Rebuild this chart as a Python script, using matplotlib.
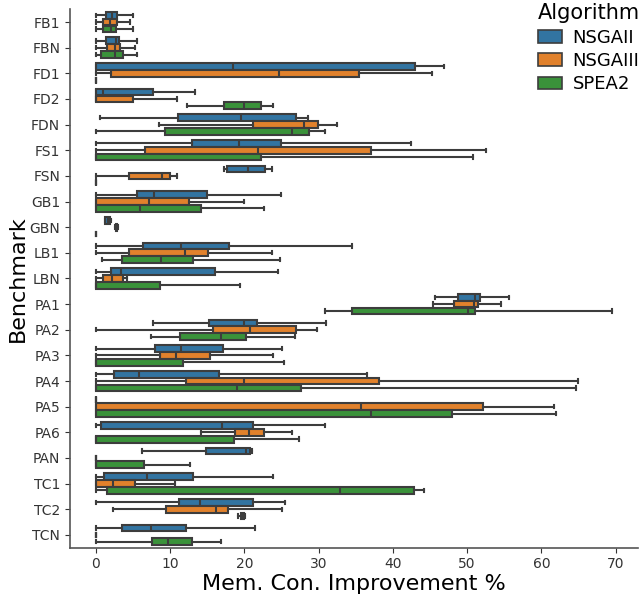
import matplotlib
matplotlib.use("Agg")
import matplotlib.pyplot as plt
from matplotlib.patches import Patch

benchmarks = ["FB1", "FBN", "FD1", "FD2", "FDN", "FS1", "FSN", "GB1", "GBN", "LB1",
              "LBN", "PA1", "PA2", "PA3", "PA4", "PA5", "PA6", "PAN", "TC1", "TC2", "TCN"]
algorithms = ["NSGAII", "NSGAIII", "SPEA2"]
colors = ["#3274a1", "#e1812c", "#3a923a"]

# box statistics per benchmark: (whisker low, q1, median, q3, whisker high)
nsgaii = [
    (0, 1.33, 2.2, 2.9, 4.96), (0, 1.33, 2.72, 3.16, 5.59), (0, 0, 18.5, 43.0, 46.9),
    (0, 0, 1.0, 7.65, 13.3), (0.57, 11.1, 19.6, 27.0, 28.6), (0, 13.0, 19.3, 24.9, 42.5),
    (17.25, 17.7, 20.5, 22.8, 23.7), (0, 5.5, 7.87, 15.0, 24.9), (1.2, 1.3, 1.7, 1.9, 2.1),
    (0, 6.35, 11.5, 17.9, 34.5), (0, 2.05, 3.35, 16.1, 24.6), (45.65, 48.75, 51.1, 51.8, 55.6),
    (7.74, 15.2, 19.9, 21.65, 31.0), (0, 8.0, 11.5, 17.2, 25.1), (0, 2.5, 5.77, 16.6, 36.5),
    (0, 0, 0, 0, 0), (0, 0.66, 17.0, 21.2, 30.8), (6.22, 14.9, 20.2, 20.75, 21.06),
    (0, 1.1, 6.93, 13.1, 23.9), (0, 11.2, 14.0, 21.2, 25.5), (0, 3.6, 7.5, 12.2, 21.4),
]
nsgaiii = [
    (0, 0.92, 1.9, 2.9, 4.6), (0, 1.46, 2.58, 3.26, 5.27), (0, 2.05, 24.7, 35.4, 45.3),
    (0, 0, 0, 4.96, 11.0), (8.46, 21.2, 28.1, 29.9, 32.5), (0, 6.58, 21.9, 37.0, 52.6),
    (0, 4.5, 8.87, 9.99, 11.0), (0, 0, 7.16, 12.5, 19.9), (2.65, 2.7, 2.8, 2.9, 2.95),
    (0, 4.5, 12.0, 15.1, 23.7), (0, 0.92, 2.22, 3.7, 4.15), (45.4, 48.3, 50.9, 51.5, 54.5),
    (0, 15.8, 20.8, 26.9, 29.8), (0, 8.6, 10.8, 15.4, 23.9), (0, 12.1, 20.0, 38.2, 64.9),
    (0, 0, 35.7, 52.1, 61.7), (14.2, 18.7, 20.6, 22.6, 26.4), (0, 0, 0, 0, 0),
    (0, 0, 2.36, 5.32, 10.7), (2.36, 9.45, 16.2, 17.8, 25.1), (0, 0, 0, 0, 0),
]
spea2 = [
    (0, 1.0, 2.0, 2.68, 4.96), (0, 0.66, 2.58, 3.7, 5.5), (0, 0, 0, 0, 0),
    (12.3, 17.3, 20.0, 22.2, 23.9), (0, 9.27, 26.4, 28.7, 30.9), (0, 0, 0, 22.3, 50.8),
    (0, 0, 0, 0, 0), (0, 0, 5.99, 14.2, 22.6), (0, 0, 0, 0, 0),
    (0.88, 3.57, 8.82, 13.1, 24.8), (0, 0, 0, 8.6, 19.4), (30.8, 34.5, 50.1, 51.1, 69.5),
    (7.5, 11.3, 16.8, 20.2, 26.8), (0, 0, 0, 11.8, 25.4), (0, 0, 19.05, 27.7, 64.7),
    (0, 0, 37.1, 48.0, 61.9), (0, 0, 0, 18.6, 27.4), (0, 0, 0, 6.53, 12.7),
    (0, 1.46, 32.9, 42.9, 44.2), (19.2, 19.6, 19.8, 20.0, 20.1), (0, 7.6, 9.77, 12.9, 16.8),
]
series = [nsgaii, nsgaiii, spea2]

fig = plt.figure(figsize=(6.39, 5.98), dpi=100)
ax = fig.add_axes([0.1095, 0.0841, 0.8885, 0.9005])

edge = "#3d3d3d"
width = 0.8 / 3
for k, (data, col) in enumerate(zip(series, colors)):
    stats = []
    for (lo, q1, med, q3, hi) in data:
        stats.append(dict(whislo=lo, q1=q1, med=med, q3=q3, whishi=hi, fliers=[]))
    pos = [i + (k - 1) * width for i in range(len(benchmarks))]
    ax.bxp(stats, positions=pos, widths=width * 0.98, vert=False, patch_artist=True,
           showfliers=False, manage_ticks=False,
           boxprops=dict(facecolor=col, edgecolor=edge, linewidth=1.5),
           medianprops=dict(color=edge, linewidth=1.5),
           whiskerprops=dict(color=edge, linewidth=1.5),
           capprops=dict(color=edge, linewidth=1.5))

ax.set_yticks(range(len(benchmarks)))
ax.set_yticklabels(benchmarks)
ax.set_ylim(len(benchmarks) - 0.5, -0.5)
ax.set_xlim(-3.47, 72.97)
ax.set_xticks(range(0, 71, 10))
ax.tick_params(labelsize=10, colors="#333333")
for s in ["top", "right"]:
    ax.spines[s].set_visible(False)
for s in ["left", "bottom"]:
    ax.spines[s].set_color("#555555")
    ax.spines[s].set_linewidth(1.2)
ax.set_xlabel("Mem. Con. Improvement %", fontsize=16, labelpad=2)
ax.set_ylabel("Benchmark", fontsize=16, labelpad=1)

handles = [Patch(facecolor=c, edgecolor=edge, linewidth=1.2) for c in colors]
leg = fig.legend(handles, algorithms, title="Algorithm", loc="upper right",
                 bbox_to_anchor=(1.027, 1.022), frameon=False, fontsize=13,
                 title_fontsize=15, handlelength=1.33, handleheight=0.7,
                 labelspacing=0.3, handletextpad=0.6)
leg._legend_box.align = "left"

fig.savefig("out.png", dpi=100)
